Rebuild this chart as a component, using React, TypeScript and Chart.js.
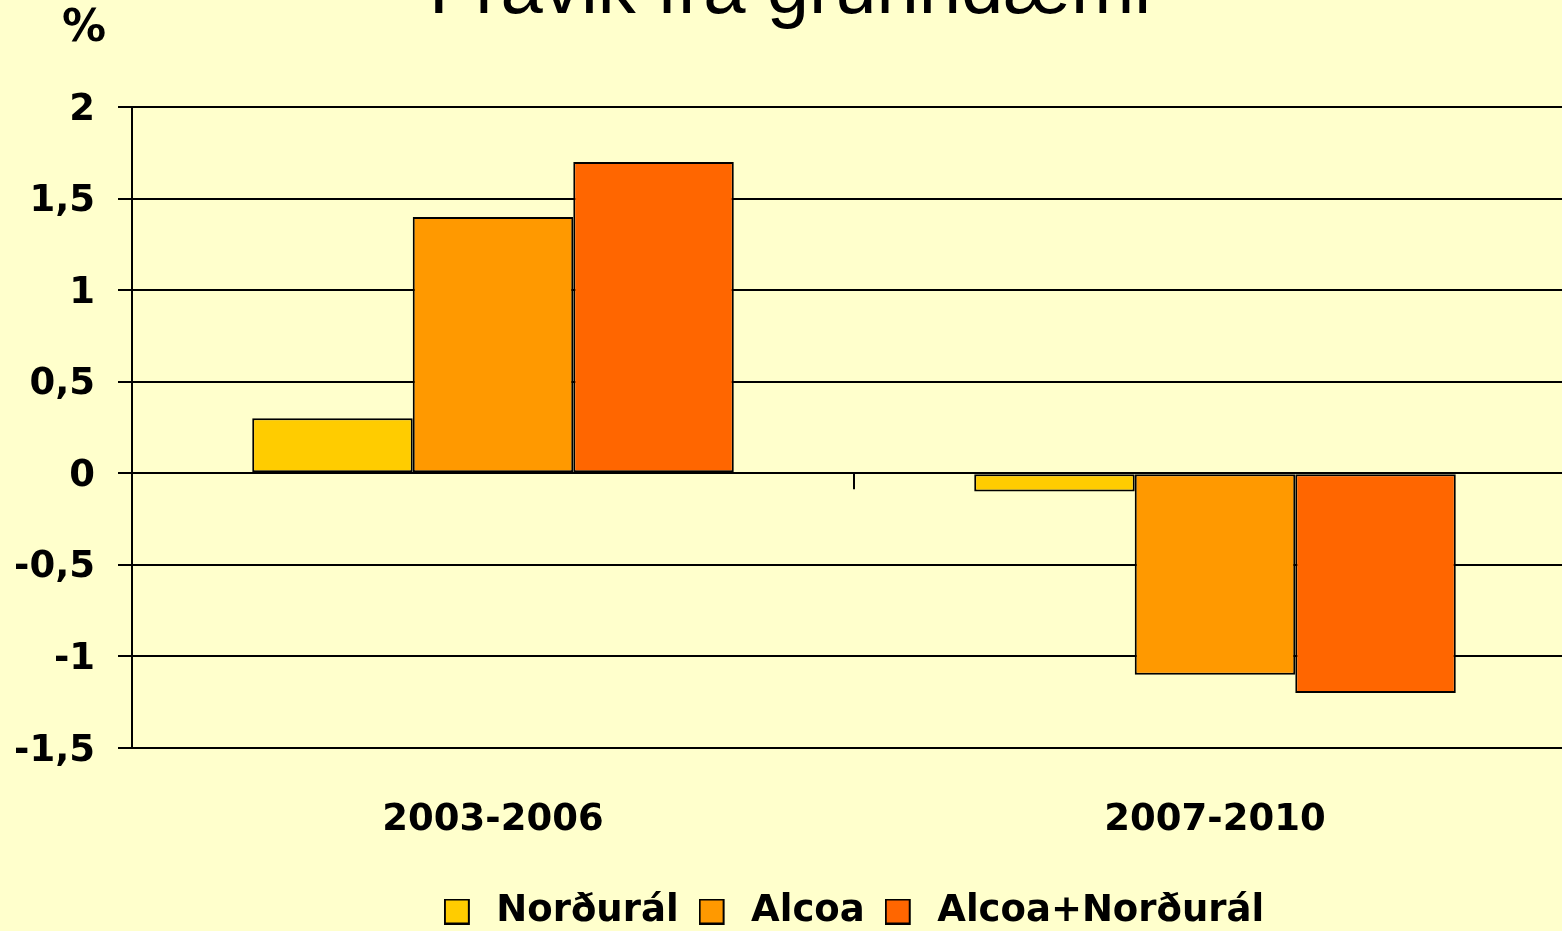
import React, { useEffect, useRef } from "react";
import { Chart, registerables } from "chart.js";

Chart.register(...registerables);

const titleText = "Frávik frá grunndæmi";
const unitLabel = "%";
const categories = ["2003-2006", "2007-2010"];
const seriesNames = ["Norðurál", "Alcoa", "Alcoa+Norðurál"];
const norduralValues = [0.3, -0.1];
const alcoaValues = [1.4, -1.1];
const combinedValues = [1.7, -1.2];
const seriesColors = ["#FFCC00", "#FF9900", "#FF6600"];
const yMin = -1.5;
const yMax = 2;
const yStep = 0.5;

const FONT = "'DejaVu Sans', sans-serif";

function makeSwatch(color: string) {
  const c = document.createElement("canvas");
  c.width = 34;
  c.height = 26;
  const g = c.getContext("2d")!;
  g.fillStyle = color;
  g.fillRect(0, 0, 26, 26);
  g.strokeStyle = "#000";
  g.lineWidth = 2;
  g.strokeRect(1, 1, 24, 24);
  return c;
}

const overlayPlugin = {
  id: "overlay",
  afterDraw(chart: any) {
    const ctx = chart.ctx;
    const x = chart.scales.x;
    const y = chart.scales.y;
    ctx.save();
    // tick on zero line between categories
    const bx = Math.round(x.getPixelForValue(0.5));
    const y0 = y.getPixelForValue(0);
    ctx.strokeStyle = "#000";
    ctx.lineWidth = 2;
    ctx.beginPath();
    ctx.moveTo(bx, y0);
    ctx.lineTo(bx, y0 + 16);
    ctx.stroke();
    // title
    ctx.fillStyle = "#000";
    ctx.font = "76px 'Liberation Sans', Arial, sans-serif";
    ctx.textAlign = "center";
    ctx.textBaseline = "alphabetic";
    ctx.fillText(titleText, 790, 13);
    // unit
    ctx.font = "bold 44px " + FONT;
    ctx.textBaseline = "middle";
    ctx.fillText(unitLabel, 84, 30);
    ctx.restore();
  },
};

export default function App() {
  const ref = useRef<HTMLCanvasElement | null>(null);
  useEffect(() => {
    document.body.style.margin = "0";
    document.body.style.overflow = "hidden";
    const canvas = ref.current!;
    const swatches = seriesColors.map(makeSwatch);
    const chart = new Chart(canvas, {
      type: "bar",
      data: {
        labels: categories,
        datasets: [norduralValues, alcoaValues, combinedValues].map((d, i) => ({
          label: seriesNames[i],
          data: d,
          backgroundColor: seriesColors[i],
          borderColor: "#000",
          borderWidth: 2,
          borderSkipped: false,
          categoryPercentage: 0.667,
          barPercentage: 1,
        })),
      },
      options: {
        responsive: false,
        animation: false,
        layout: { padding: { top: 107, left: 0, right: 0, bottom: 0 } },
        plugins: {
          tooltip: { enabled: false },
          title: { display: false },
          legend: {
            position: "bottom",
            labels: {
              color: "#000",
              font: { family: FONT, size: 37, weight: "bold" },
              boxWidth: 26,
              boxHeight: 26,
              usePointStyle: true,
              pointStyleWidth: 34,
              padding: 20,
              generateLabels(ch: any) {
                const items = Chart.defaults.plugins.legend.labels.generateLabels(ch);
                items.forEach((it: any, i: number) => {
                  it.pointStyle = swatches[i];
                });
                return items;
              },
            },
          },
        },
        scales: {
          x: {
            grid: { display: false },
            border: { display: false },
            ticks: {
              color: "#000",
              font: { family: FONT, size: 37, weight: "bold" },
              padding: 42,
              maxRotation: 0,
            },
            afterFit(scale: any) {
              scale.height = 125;
            },
          },
          y: {
            position: "left",
            min: yMin,
            max: yMax,
            ticks: {
              stepSize: yStep,
              color: "#000",
              font: { family: FONT, size: 37, weight: "bold" },
              padding: 23,
              labelOffset: 3,
              callback: (v: any) => String(Number(v)).replace(".", ","),
            },
            grid: {
              color: "#000",
              lineWidth: 2,
              tickLength: 14,
              tickColor: "#000",
            },
            border: { display: true, color: "#000", width: 2 },
            afterFit(scale: any) {
              scale.width = 132;
            },
          },
          yRight: {
            position: "right",
            min: yMin,
            max: yMax,
            ticks: { display: false },
            grid: { drawOnChartArea: false, drawTicks: false },
            border: { display: false },
            afterFit(scale: any) {
              scale.width = 132;
            },
          },
        },
      },
      plugins: [overlayPlugin],
    });
    return () => chart.destroy();
  }, []);
  return (
    <div style={{ width: 1562, height: 931, overflow: "hidden", background: "#FFFFCC", position: "relative" }}>
      <canvas ref={ref} width={1708} height={940} style={{ display: "block", width: 1708, height: 940 }} />
    </div>
  );
}
